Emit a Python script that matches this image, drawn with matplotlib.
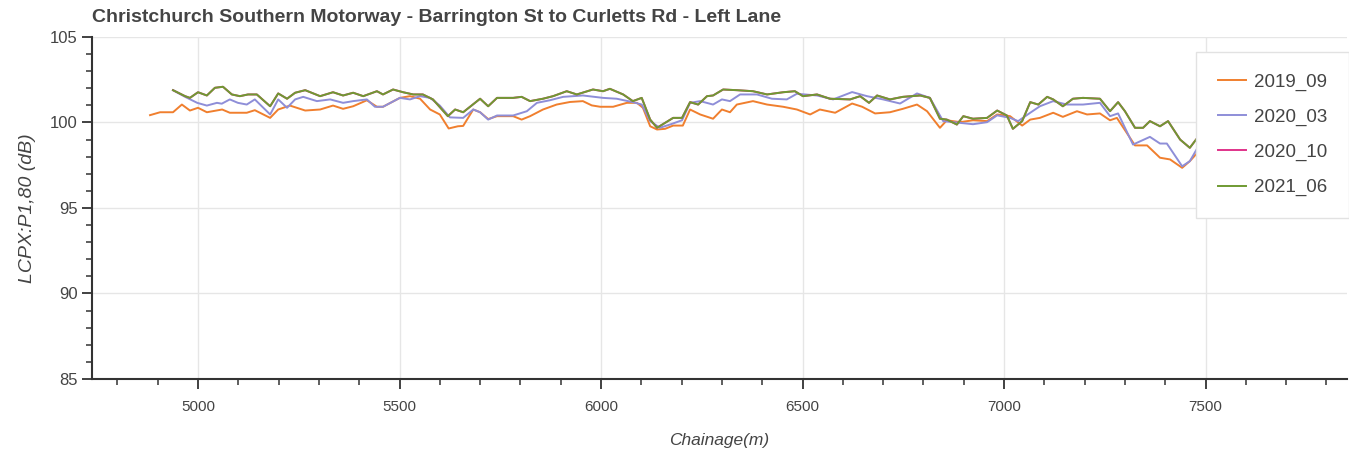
import matplotlib
matplotlib.use("Agg")
from matplotlib import pyplot as plt
from matplotlib.ticker import MultipleLocator

plt.rcParams['font.family'] = ['Liberation Sans', 'DejaVu Sans']

# chainage (m) and LCPX:P1,80 (dB), one pair of lists per survey
ch_2019_09 = [4881, 4906, 4938, 4960, 4980, 5000, 5022, 5060, 5079, 5121, 5141, 5179, 5199,
              5228, 5253, 5266, 5303, 5335, 5360, 5385, 5419, 5444, 5459, 5501, 5526, 5551,
              5576, 5600, 5622, 5645, 5658, 5683, 5700, 5720, 5742, 5782, 5803, 5824, 5856,
              5890, 5923, 5955, 5977, 5998, 6030, 6064, 6089, 6104, 6122, 6139, 6159, 6179,
              6203, 6221, 6246, 6278, 6300, 6320, 6337, 6377, 6412, 6452, 6486, 6519, 6543,
              6581, 6623, 6648, 6680, 6717, 6749, 6784, 6809, 6841, 6858, 6891, 6923, 6958,
              6983, 7015, 7045, 7065, 7089, 7122, 7146, 7181, 7206, 7238, 7263, 7280, 7325,
              7355, 7387, 7412, 7442, 7461, 7491]
lcpx_2019_09 = [100.43, 100.6, 100.6, 101.05, 100.7, 100.86, 100.6, 100.76, 100.57, 100.57,
                100.72, 100.27, 100.76, 100.99, 100.8, 100.7, 100.76, 100.99, 100.8, 100.95,
                101.3, 100.92, 100.92, 101.44, 101.54, 101.39, 100.76, 100.47, 99.65, 99.78,
                99.8, 100.76, 100.6, 100.2, 100.37, 100.37, 100.17, 100.37, 100.76, 101.05,
                101.2, 101.25, 101.0, 100.92, 100.92, 101.15, 101.15, 100.86, 99.78, 99.59,
                99.63, 99.82, 99.82, 100.76, 100.47, 100.22, 100.76, 100.6, 101.05, 101.25,
                101.05, 100.92, 100.76, 100.47, 100.76, 100.57, 101.11, 100.92, 100.53, 100.6,
                100.8, 101.05, 100.66, 99.69, 100.13, 100.02, 100.13, 100.08, 100.47, 100.37,
                99.82, 100.17, 100.27, 100.57, 100.33, 100.66, 100.47, 100.53, 100.13, 100.27,
                98.66, 98.66, 97.94, 97.84, 97.35, 97.74, 98.52]

ch_2020_03 = [4938, 4968, 4998, 5022, 5047, 5059, 5079, 5099, 5121, 5141, 5179, 5199, 5221,
              5241, 5261, 5295, 5328, 5360, 5385, 5419, 5439, 5459, 5501, 5526, 5551, 5576,
              5600, 5625, 5658, 5683, 5700, 5720, 5742, 5782, 5816, 5841, 5873, 5906, 5955,
              6005, 6039, 6079, 6101, 6122, 6146, 6171, 6201, 6221, 6246, 6278, 6300, 6320,
              6345, 6387, 6424, 6461, 6486, 6536, 6576, 6623, 6660, 6700, 6742, 6784, 6816,
              6849, 6874, 6923, 6958, 6983, 7015, 7035, 7065, 7089, 7122, 7156, 7196, 7238,
              7263, 7283, 7320, 7362, 7387, 7404, 7442, 7461, 7491]
lcpx_2020_03 = [101.89, 101.5, 101.15, 100.99, 101.15, 101.1, 101.35, 101.15, 101.05, 101.35,
                100.47, 101.35, 100.86, 101.35, 101.5, 101.25, 101.35, 101.15, 101.25, 101.35,
                100.92, 100.92, 101.44, 101.35, 101.54, 101.44, 100.99, 100.3, 100.27, 100.76,
                100.6, 100.17, 100.41, 100.41, 100.66, 101.15, 101.3, 101.5, 101.58, 101.44,
                101.39, 101.19, 101.05, 100.08, 99.69, 99.88, 100.13, 101.15, 101.25, 101.05,
                101.35, 101.25, 101.64, 101.64, 101.39, 101.35, 101.68, 101.58, 101.35, 101.78,
                101.54, 101.35, 101.11, 101.7, 101.44, 100.08, 100.02, 99.9, 100.02, 100.42,
                100.27, 100.08, 100.57, 100.95, 101.25, 101.05, 101.05, 101.15, 100.37, 100.53,
                98.71, 99.16, 98.77, 98.77, 97.44, 97.74, 98.96]

ch_2021_06 = [4938, 4968, 4980, 5000, 5022, 5042, 5062, 5084, 5104, 5124, 5146, 5179, 5199,
              5221, 5241, 5266, 5303, 5335, 5360, 5385, 5410, 5444, 5459, 5484, 5509, 5534,
              5558, 5583, 5620, 5638, 5658, 5700, 5720, 5742, 5782, 5803, 5824, 5856, 5881,
              5915, 5940, 5980, 6005, 6022, 6055, 6079, 6101, 6122, 6139, 6159, 6179, 6201,
              6221, 6241, 6263, 6278, 6303, 6337, 6377, 6412, 6452, 6481, 6501, 6536, 6568,
              6618, 6643, 6665, 6685, 6717, 6749, 6792, 6816, 6841, 6858, 6883, 6899, 6923,
              6958, 6983, 7007, 7022, 7045, 7065, 7085, 7107, 7122, 7146, 7171, 7196, 7238,
              7263, 7283, 7300, 7325, 7345, 7362, 7387, 7407, 7437, 7461, 7486, 7494]
lcpx_2021_06 = [101.89, 101.54, 101.44, 101.77, 101.58, 102.03, 102.09, 101.64, 101.54, 101.64,
                101.64, 100.95, 101.7, 101.39, 101.74, 101.89, 101.54, 101.77, 101.58, 101.74,
                101.54, 101.83, 101.64, 101.93, 101.77, 101.64, 101.64, 101.35, 100.37, 100.76,
                100.6, 101.39, 100.95, 101.44, 101.44, 101.5, 101.25, 101.39, 101.54, 101.83,
                101.64, 101.93, 101.83, 101.97, 101.64, 101.25, 101.44, 100.17, 99.69, 99.98,
                100.27, 100.27, 101.19, 101.05, 101.54, 101.58, 101.93, 101.89, 101.83, 101.64,
                101.77, 101.83, 101.54, 101.64, 101.39, 101.35, 101.54, 101.15, 101.58, 101.35,
                101.5, 101.58, 101.44, 100.22, 100.17, 99.88, 100.37, 100.22, 100.27, 100.7,
                100.41, 99.63, 100.08, 101.19, 101.05, 101.5, 101.35, 100.95, 101.39, 101.44,
                101.39, 100.66, 101.19, 100.66, 99.69, 99.69, 100.08, 99.78, 100.08, 99.0,
                98.52, 99.3, 99.69]

# 2020_10 run sits exactly under the 2021_06 line, so it is never seen
ch_2020_10 = ch_2021_06
lcpx_2020_10 = lcpx_2021_06

surveys = ['2019_09', '2020_03', '2020_10', '2021_06']
colours = ['#f07f2e', '#8e8ed8', '#e0338a', '#6f9a32']

fig = plt.figure(figsize=(13.49, 4.5), dpi=100)
ax = fig.add_axes([92 / 1349, 1 - 379 / 450, (1347 - 92) / 1349, (379 - 37) / 450])

series = [(ch_2019_09, lcpx_2019_09), (ch_2020_03, lcpx_2020_03),
          (ch_2020_10, lcpx_2020_10), (ch_2021_06, lcpx_2021_06)]
for (x, y), name, c in zip(series, surveys, colours):
    ax.plot(x, y, color=c, lw=1.4, label=name)

ax.set_xlim(4737, 7851)
ax.set_ylim(85, 105)
ax.xaxis.set_major_locator(MultipleLocator(500))
ax.xaxis.set_minor_locator(MultipleLocator(100))
ax.yaxis.set_major_locator(MultipleLocator(5))
ax.yaxis.set_minor_locator(MultipleLocator(1))
ax.grid(True, which='major', color='#e6e6e6', lw=1)
ax.set_axisbelow(True)

for s in ['top', 'right']:
    ax.spines[s].set_visible(False)
for s in ['left', 'bottom']:
    ax.spines[s].set_color('#333333')
    ax.spines[s].set_linewidth(1.5)
ax.tick_params(which='major', length=7, width=1.3, color='#333333', labelcolor='#444444',
               labelsize=11)
ax.tick_params(axis='y', which='major', labelsize=12)
ax.tick_params(which='minor', length=4, width=1.1, color='#333333')
ax.tick_params(axis='x', pad=8)

ax.set_xlabel('Chainage(m)', fontsize=12.5, fontstyle='italic', color='#444444', labelpad=14)
ax.set_ylabel('LCPX:P1,80 (dB)', fontsize=14, fontstyle='italic', color='#444444', labelpad=10)
fig.text(92 / 1349, 1 - 18 / 450, 'Christchurch Southern Motorway - Barrington St to Curletts Rd - Left Lane',
         fontsize=14, fontweight='bold', color='#444444', va='center', ha='left')

leg = ax.legend(loc='upper right', bbox_to_anchor=(1349 / 1349, 1 - 52 / 450),
                bbox_transform=fig.transFigure, borderaxespad=0, fontsize=13.5,
                frameon=True, fancybox=False, framealpha=1, edgecolor='#e2e2e2',
                handlelength=1.5, handletextpad=0.45, labelspacing=0.95,
                borderpad=1.15)
for t in leg.get_texts():
    t.set_color('#444444')

plt.savefig('out.png', dpi=100)
